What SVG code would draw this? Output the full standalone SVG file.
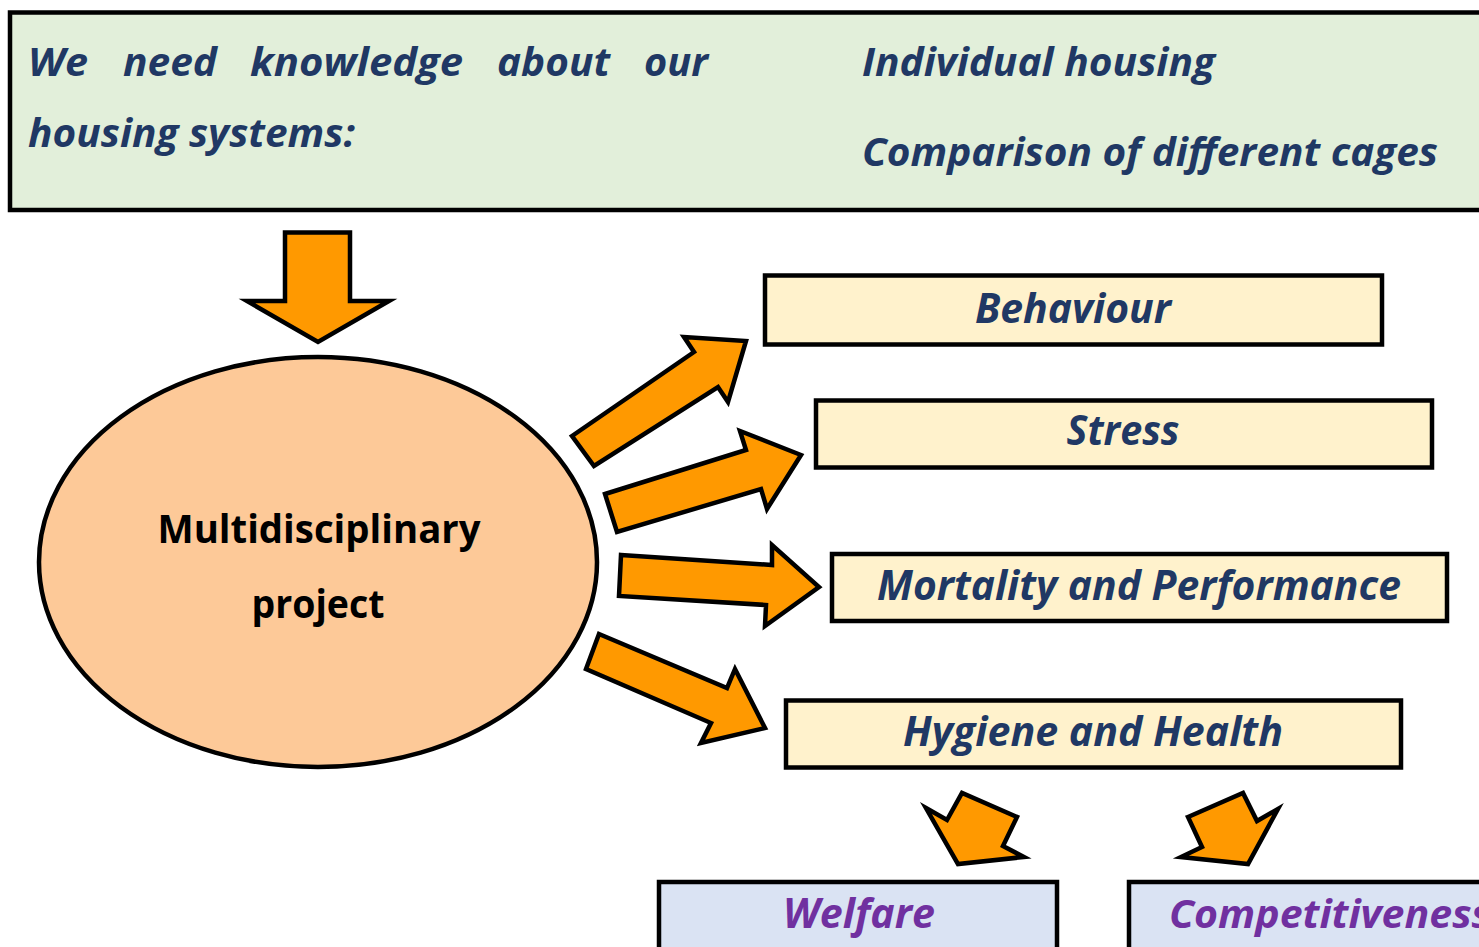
<svg xmlns="http://www.w3.org/2000/svg" width="1479" height="947" viewBox="0 0 1479 947">
<style>
.t{font-family:"Open Sans","Noto Sans",sans-serif;font-weight:bold;font-style:italic;fill:#203864;font-size:40px}
.lbl{font-size:42px;text-anchor:middle}
.pur{fill:#7030a0}
.ell{font-family:"Open Sans","Noto Sans",sans-serif;font-weight:bold;fill:#000;font-size:40px;text-anchor:middle}
.box{stroke:#000;stroke-width:4.5}
.arr{fill:#ff9900;stroke:#000;stroke-width:4.5;stroke-linejoin:miter}
</style>
<rect width="1479" height="947" fill="#fff"/>
<g id="header">
<rect class="box" x="10" y="12.5" width="1480" height="197.5" fill="#e2efda" stroke-width="5"/>
<text class="t" x="28" y="76" textLength="60" lengthAdjust="spacingAndGlyphs">We</text>
<text class="t" x="123" y="76" textLength="94" lengthAdjust="spacingAndGlyphs">need</text>
<text class="t" x="250" y="76" textLength="213" lengthAdjust="spacingAndGlyphs">knowledge</text>
<text class="t" x="497" y="76" textLength="113" lengthAdjust="spacingAndGlyphs">about</text>
<text class="t" x="644" y="76" textLength="64" lengthAdjust="spacingAndGlyphs">our</text>
<text class="t" x="28" y="147" textLength="327" lengthAdjust="spacingAndGlyphs">housing systems:</text>
<text class="t" x="862" y="76" textLength="353" lengthAdjust="spacingAndGlyphs">Individual housing</text>
<text class="t" x="862" y="166" textLength="576" lengthAdjust="spacingAndGlyphs">Comparison of different cages</text>
</g>
<g id="project">
<ellipse cx="318" cy="562" rx="279" ry="205" fill="#fdc998" stroke="#000" stroke-width="4.5"/>
<text class="ell" x="319" y="543" textLength="323" lengthAdjust="spacingAndGlyphs">Multidisciplinary</text>
<text class="ell" x="318" y="618" textLength="133" lengthAdjust="spacingAndGlyphs">project</text>
</g>
<g id="behaviour">
<rect class="box" x="765" y="275.5" width="617" height="69" fill="#fff2cc"/>
<text class="t lbl" x="1073" y="323" textLength="196" lengthAdjust="spacingAndGlyphs">Behaviour</text>
</g>
<g id="stress">
<rect class="box" x="816" y="400.5" width="616" height="67" fill="#fff2cc"/>
<text class="t lbl" x="1123" y="445" textLength="113" lengthAdjust="spacingAndGlyphs">Stress</text>
</g>
<g id="mortality">
<rect class="box" x="832" y="554" width="615" height="67" fill="#fff2cc"/>
<text class="t lbl" x="1139" y="600" textLength="524" lengthAdjust="spacingAndGlyphs">Mortality and Performance</text>
</g>
<g id="hygiene">
<rect class="box" x="786" y="700.5" width="615" height="67" fill="#fff2cc"/>
<text class="t lbl" x="1093" y="746" textLength="380" lengthAdjust="spacingAndGlyphs">Hygiene and Health</text>
</g>
<g id="welfare">
<rect class="box" x="659" y="882" width="398" height="100" fill="#dae3f3"/>
<text class="t lbl pur" x="859" y="928" textLength="152" lengthAdjust="spacingAndGlyphs">Welfare</text>
</g>
<g id="competitiveness">
<rect class="box" x="1129" y="882" width="400" height="100" fill="#dae3f3"/>
<text class="t pur" x="1169" y="928" font-size="42" textLength="322" lengthAdjust="spacingAndGlyphs">Competitiveness</text>
</g>
<g id="connectors">
<path class="arr" d="M285,232.5 H350 V301 H389 L318,342 L247,301 H285 Z"/>
<path class="arr" d="M572,436 L694,352 L684,337 L746,341 L728,402 L718,387 L594,466 Z"/>
<path class="arr" d="M605,494 L746,450 L740,431 L801,455 L767,509 L761,489 L617,532 Z"/>
<path class="arr" d="M621,555 L772,565 L772,545 L819,587 L765,626 L766,605 L619,596 Z"/>
<path class="arr" d="M599,634 L727,688 L735,669 L765,728 L701,743 L711,723 L586,669 Z"/>
<path class="arr" d="M926,808 L947,820 L962,793 L1017,817 L1003,846 L1024,857 L958,864 Z"/>
<path class="arr" d="M1188,817 L1243,793 L1257,821 L1278,809 L1248,864 L1181,857 L1202,847 Z"/>
</g>
</svg>
